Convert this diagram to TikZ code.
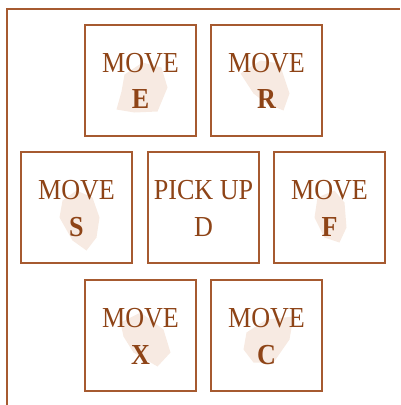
\documentclass[tikz,border=0pt]{standalone}
\usepackage{fontspec}
\usepackage{graphicx}
\setmainfont{Liberation Serif}
\definecolor{framec}{HTML}{A65A30}
\definecolor{txtc}{HTML}{8E4417}
\definecolor{blobc}{HTML}{E9C9B2}
\tikzset{
  keybox/.style={draw=framec, line width=2pt, minimum width=111pt, minimum height=111pt, inner sep=0pt},
  keytxt/.style={text=txtc, anchor=base, inner sep=0pt, font=\fontsize{29}{34}\selectfont},
  blob/.style={fill=blobc, fill opacity=0.38, draw=none},
}
\newcommand{\kw}[1]{\scalebox{0.9}[1]{#1}}
\begin{document}
\begin{tikzpicture}[x=1pt,y=-1pt]
\useasboundingbox (0,0) rectangle (400,405);
% frame
\coordinate (fbl) at (7,405);
\coordinate (ftl) at (7,9);
\coordinate (ftr) at (400,9);
\draw[framec, line width=2pt] (fbl) -- (ftl) -- (ftr);
% blobs
\begin{scope}[shift={(140.5,80.5)}]
\fill[blob] (-16,-6) -- (2,-18) -- (21,-13) -- (27,7) -- (17,31) -- (-6,32) -- (-24,29) -- (-19,11) -- cycle;
\end{scope}
\begin{scope}[shift={(266.5,80.5)}]
\fill[blob] (-26,-7) -- (-6,-20) -- (13,-17) -- (23,13) -- (17,30) -- (0,23) -- (-13,13) -- cycle;
\end{scope}
\begin{scope}[shift={(76.5,207.5)}]
\fill[blob] (-14,-7) -- (0,-17) -- (16,-10) -- (23,10) -- (20,30) -- (10,43) -- (-4,33) -- (-17,10) -- cycle;
\end{scope}
\begin{scope}[shift={(329.5,207.5)}]
\fill[blob] (-12,-10) -- (5,-17) -- (15,-5) -- (17,20) -- (10,35) -- (-5,30) -- (-15,10) -- cycle;
\end{scope}
\begin{scope}[shift={(140.5,335.5)}]
\fill[blob] (-20,-13) -- (0,-23) -- (23,-6) -- (30,17) -- (17,31) -- (-7,17) -- (-17,1) -- cycle;
\end{scope}
\begin{scope}[shift={(266.5,335.5)}]
\fill[blob] (-20,-3) -- (0,-16) -- (27,-19) -- (23,4) -- (7,27) -- (-13,27) -- (-23,14) -- cycle;
\end{scope}
% boxes
\node[keybox] (bE) at (140.5,80.5) {};
\node[keybox] (bR) at (266.5,80.5) {};
\node[keybox] (bS) at (76.5,207.5) {};
\node[keybox] (bD) at (203.5,207.5) {};
\node[keybox] (bF) at (329.5,207.5) {};
\node[keybox] (bX) at (140.5,335.5) {};
\node[keybox] (bC) at (266.5,335.5) {};
% labels
\node[keytxt] (tE1) at ([yshift=8.5pt]bE.center) {\kw{MOVE}};
\node[keytxt] (tE2) at ([yshift=-27.5pt]bE.center) {\kw{\bfseries E}};
\node[keytxt] (tR1) at ([yshift=8.5pt]bR.center) {\kw{MOVE}};
\node[keytxt] (tR2) at ([yshift=-27.5pt]bR.center) {\kw{\bfseries R}};
\node[keytxt] (tS1) at ([yshift=8pt]bS.center) {\kw{MOVE}};
\node[keytxt] (tS2) at ([yshift=-29pt]bS.center) {\kw{\bfseries S}};
\node[keytxt] (tD1) at ([yshift=8pt]bD.center) {\kw{PICK UP}};
\node[keytxt] (tD2) at ([yshift=-29pt]bD.center) {\kw{D}};
\node[keytxt] (tF1) at ([yshift=8pt]bF.center) {\kw{MOVE}};
\node[keytxt] (tF2) at ([yshift=-29pt]bF.center) {\kw{\bfseries F}};
\node[keytxt] (tX1) at ([yshift=8pt]bX.center) {\kw{MOVE}};
\node[keytxt] (tX2) at ([yshift=-29pt]bX.center) {\kw{\bfseries X}};
\node[keytxt] (tC1) at ([yshift=8pt]bC.center) {\kw{MOVE}};
\node[keytxt] (tC2) at ([yshift=-29pt]bC.center) {\kw{\bfseries C}};
\end{tikzpicture}
\end{document}
